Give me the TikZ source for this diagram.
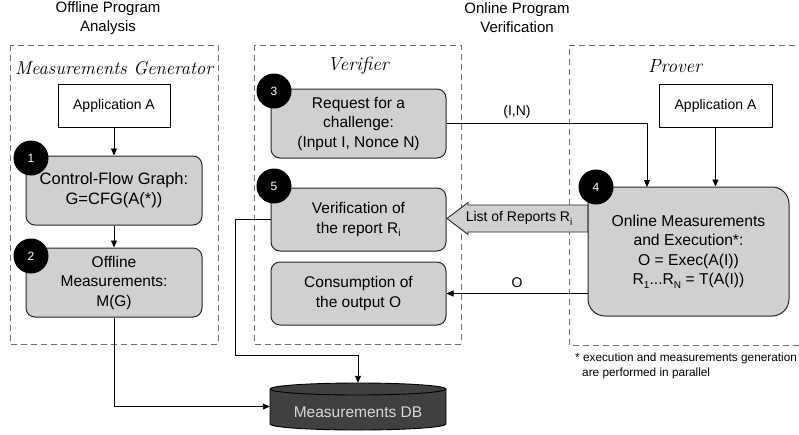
\documentclass[tikz,border=0pt]{standalone}
\usepackage{fontspec}
\setmainfont{Liberation Sans}
\usetikzlibrary{arrows.meta}
\newcommand\scriptlabelfont{\fontencoding{TU}\fontfamily{lmr}\fontseries{m}\fontshape{it}\selectfont}
\newcommand\fsmain{\fontsize{15.5}{19.5}\selectfont}
\newcommand\fsapp{\fontsize{14}{17}\selectfont}
\newcommand\lowsub[1]{\raisebox{-0.45ex}{\fontsize{10}{10}\selectfont #1}}
\definecolor{boxgray}{HTML}{D0D0D0}
\definecolor{dbgray}{HTML}{404040}
\definecolor{dbtext}{HTML}{D8D8D8}
\definecolor{framegray}{HTML}{707070}
\tikzset{
  gbox/.style={draw=black!85, line width=1pt, fill=boxgray, rounded corners=9pt, align=center, font=\fsmain, inner sep=0pt, minimum width=176pt},
  appbox/.style={draw, line width=0.8pt, fill=white, minimum width=112pt, minimum height=43pt, font=\fsapp, inner sep=0pt},
  num/.style={circle, fill=black, text=white, minimum size=35pt, inner sep=0pt, font=\fontsize{12}{14}\selectfont},
  conn/.style={line width=0.9pt, -{Triangle[length=7pt,width=6pt]}},
  frame/.style={draw=framegray, dash pattern=on 6pt off 4pt, line width=0.9pt},
  title/.style={align=center, font=\fontsize{15}{19}\selectfont, inner sep=0pt},
  frametitle/.style={font=\scriptlabelfont\fontsize{19}{24}\selectfont, inner sep=0pt},
  lbl/.style={font=\fontsize{14}{17}\selectfont, inner sep=0pt},
  foot/.style={font=\fontsize{11.8}{14}\selectfont, inner sep=0pt, anchor=west}
}
\begin{document}
\begin{tikzpicture}[x=1pt,y=-1pt]
\useasboundingbox (0,0) rectangle (799,434);
% titles
\node[title] (t1) at (108,18) {Offline Program\\Analysis};
\node[title] (t2) at (517,18) {Online Program\\Verification};
% frames
\draw[frame] (10,45) rectangle (218,344);
\draw[frame] (254,45) rectangle (461,344);
\draw[frame] (805,45) -- (569,45) -- (569,345) -- (805,345);
\node[frametitle, font=\scriptlabelfont\fontsize{18.5}{22}\selectfont] (fg) at (114,68) {Measurements Generator};
\node[frametitle] (fv) at (358,66) {Verifier};
\node[frametitle] (fp) at (675,66) {Prover};
% left column
\node[appbox] (appA1) at (114,105.5) {Application A};
\node[gbox, minimum height=69pt, font=\fontsize{16.5}{20}\selectfont] (b1) at (114,190.5) {Control-Flow Graph:\\G=CFG(A(*))};
\node[gbox, minimum height=69pt] (b2) at (114,282.5) {Offline\\Measurements:\\M(G)};
% verifier
\node[gbox, minimum width=175pt, minimum height=69pt] (b3) at (358.5,123.5) {Request for a\\challenge:\\(Input I, Nonce N)};
\node[gbox, minimum width=175pt, minimum height=63pt] (b5) at (358.5,219.5) {Verification of\\the report R\lowsub{i}};
\node[gbox, minimum width=175pt, minimum height=63pt] (b6) at (358.5,293.5) {Consumption of\\the output O};
% prover
\node[appbox, minimum width=113pt] (appA2) at (715.5,105.5) {Application A};
% hollow arrow
\filldraw[fill=boxgray, draw=black!85, line width=0.9pt] (447,218.5) -- (468,202.5) -- (468,205) -- (588,205) -- (588,232) -- (468,232) -- (468,234.5) -- cycle;
\node[lbl] (rep) at (519,218.5) {List of Reports R\lowsub{i}};
\node[gbox, minimum width=201pt, minimum height=129pt, rounded corners=17pt, font=\fontsize{15.7}{19.5}\selectfont] (b4) at (688.5,251.5) {Online Measurements\\and Execution*:\\O = Exec(A(I))\\R\lowsub{1}...R\lowsub{N} = T(A(I))};
% numbers
\node[num] (c1) at (31,158) {1};
\node[num] (c2) at (31,256) {2};
\node[num] (c3) at (274,91) {3};
\node[num] (c5) at (274,186) {5};
\node[num] (c4) at (596,187) {4};
% database
\node[minimum width=176pt, minimum height=47pt, inner sep=0pt] (db) at (358,406.5) {};
\filldraw[fill=dbgray, draw=black, line width=0.9pt] (270,389) -- (270,424) arc[start angle=180, end angle=360, x radius=88pt, y radius=6pt] -- (446,389) arc[start angle=0, end angle=180, x radius=88pt, y radius=6pt] -- cycle;
\draw[black, line width=0.9pt] (270,389) arc[start angle=180, end angle=360, x radius=88pt, y radius=6pt];
\node[font=\fontsize{15.5}{18}\selectfont, text=dbtext, inner sep=0pt] (dbl) at (358,412) {Measurements DB};
% footnote
\node[foot] (fn1) at (575,358) {* execution and measurements generation};
\node[foot] (fn2) at (582,373) {are performed in parallel};
% connectors
\draw[conn] (appA1.south) -- (b1.north);
\draw[conn] (b1.south) -- (b2.north);
\draw[conn] (b2.south) |- (db.west);
\coordinate (k1) at (235,355);
\draw[conn] (b5.west) -| (k1) -| (db.north);
\coordinate (in4) at (647,187);
\draw[conn] (b3.east) -| (in4);
\node[lbl] (lin) at (517,112) {(I,N)};
\draw[conn] (appA2.south) -- (appA2.south |- b4.north);
\draw[conn] (b4.west |- b6.east) -- (b6.east);
\node[lbl] (lo) at (517,283) {O};
\end{tikzpicture}
\end{document}
